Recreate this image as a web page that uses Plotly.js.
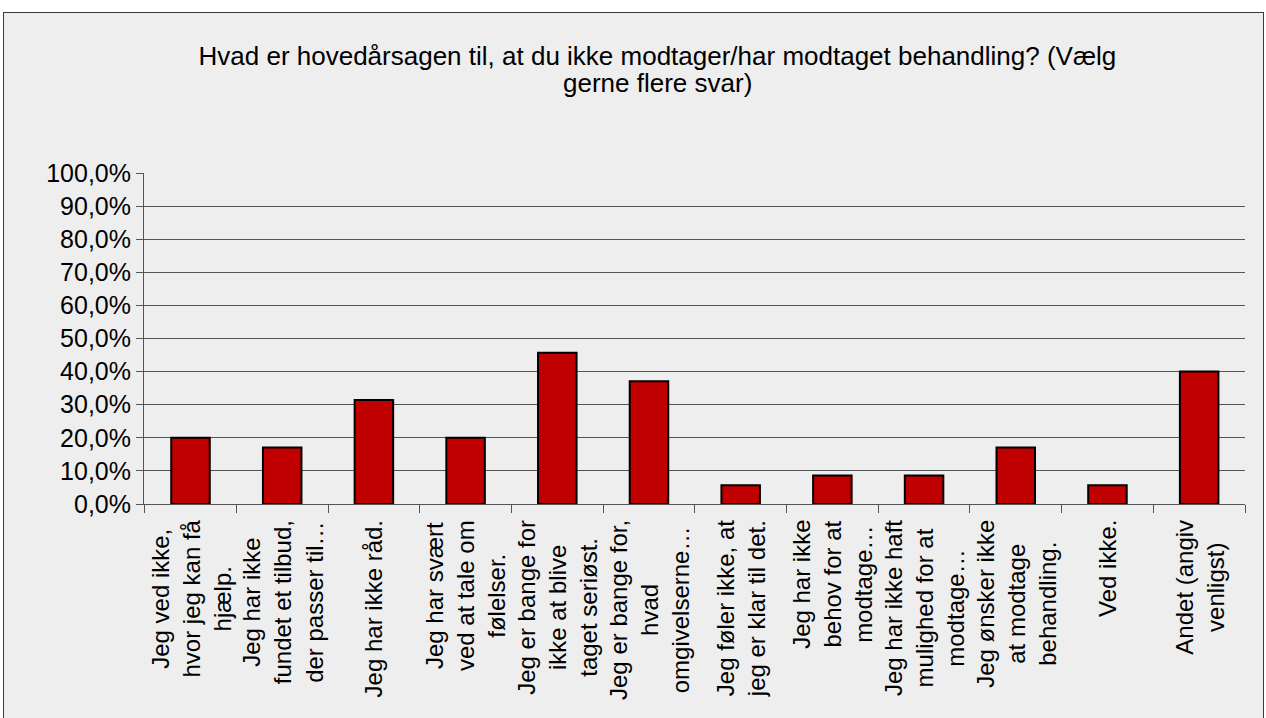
<!DOCTYPE html>
<html>
<head>
<meta charset="utf-8">
<script src="https://cdn.plot.ly/plotly-3.0.1.min.js"></script>
<style>
html,body{margin:0;padding:0;background:#ffffff;overflow:hidden;}
#frame{position:absolute;left:3px;top:12px;border:1px solid #3a3a3a;background:#eeeeee;width:1259px;height:720px;}
#chart{width:1259px;height:710px;}
</style>
</head>
<body>
<div id="frame"><div id="chart"></div></div>
<script>
const categories = [
  "Jeg ved ikke,<br>hvor jeg kan få<br>hjælp.",
  "Jeg har ikke<br>fundet et tilbud,<br>der passer til…",
  "Jeg har ikke råd.",
  "Jeg har svært<br>ved at tale om<br>følelser.",
  "Jeg er bange for<br>ikke at blive<br>taget seriøst.",
  "Jeg er bange for,<br>hvad<br>omgivelserne…",
  "Jeg føler ikke, at<br>jeg er klar til det.",
  "Jeg har ikke<br>behov for at<br>modtage…",
  "Jeg har ikke haft<br>mulighed for at<br>modtage…",
  "Jeg ønsker ikke<br>at modtage<br>behandling.",
  "Ved ikke.",
  "Andet (angiv<br>venligst)"
];
const values = [20.0, 17.1, 31.4, 20.0, 45.7, 37.1, 5.7, 8.6, 8.6, 17.1, 5.7, 40.0];
const yTicks = [0,10,20,30,40,50,60,70,80,90,100];
const yTickLabels = ["0,0%","10,0%","20,0%","30,0%","40,0%","50,0%","60,0%","70,0%","80,0%","90,0%","100,0%"];
const titleLine1 = "Hvad er hovedårsagen til, at du ikke modtager/har modtaget behandling? (Vælg";
const titleLine2 = "gerne flere svar)";

const FONT = "Liberation Sans, Arial, sans-serif";
const ids = categories.map((c, i) => "c" + i);

const trace = {
  type: "bar",
  x: ids,
  y: values,
  marker: {color: "#c00000", line: {color: "#000000", width: 2}},
  hoverinfo: "skip"
};

const annotations = categories.map((c, i) => ({
  x: ids[i], xref: "x",
  y: 0, yref: "paper",
  yanchor: "top", xanchor: "center",
  yshift: -14,
  textangle: -90,
  align: "center",
  showarrow: false,
  text: c,
  font: {family: FONT, size: 24, color: "#000000"}
}));

annotations.push({
  xref: "paper", x: 0.4668, xanchor: "center",
  yref: "paper", y: 1.272, yanchor: "middle",
  showarrow: false,
  text: titleLine2,
  font: {family: FONT, size: 26, color: "#000000"}
});

const layout = {
  width: 1259, height: 710,
  margin: {l: 140, r: 18, t: 160, b: 219},
  paper_bgcolor: "#eeeeee",
  plot_bgcolor: "#eeeeee",
  showlegend: false,
  bargap: 0.58,
  title: {
    text: titleLine1,
    xref: "container", x: 0.519, xanchor: "center",
    yref: "container", y: 0.94, yanchor: "middle",
    font: {family: FONT, size: 26, color: "#000000"}
  },
  xaxis: {
    type: "category",
    showticklabels: false,
    ticks: "outside", tickson: "boundaries", ticklen: 8, tickwidth: 1, tickcolor: "#555555",
    showline: true, linecolor: "#555555", linewidth: 1,
    showgrid: false, zeroline: false
  },
  yaxis: {
    range: [0, 100],
    tickmode: "array",
    tickvals: yTicks,
    ticktext: yTickLabels,
    ticks: "outside", ticklen: 7, tickwidth: 1, tickcolor: "#555555",
    showline: true, linecolor: "#555555", linewidth: 1,
    showgrid: true, gridcolor: "#555555", gridwidth: 1,
    zeroline: false,
    tickfont: {family: FONT, size: 25, color: "#000000"}
  },
  annotations: annotations
};

Plotly.newPlot("chart", [trace], layout, {displayModeBar: false, staticPlot: true});
</script>
</body>
</html>
